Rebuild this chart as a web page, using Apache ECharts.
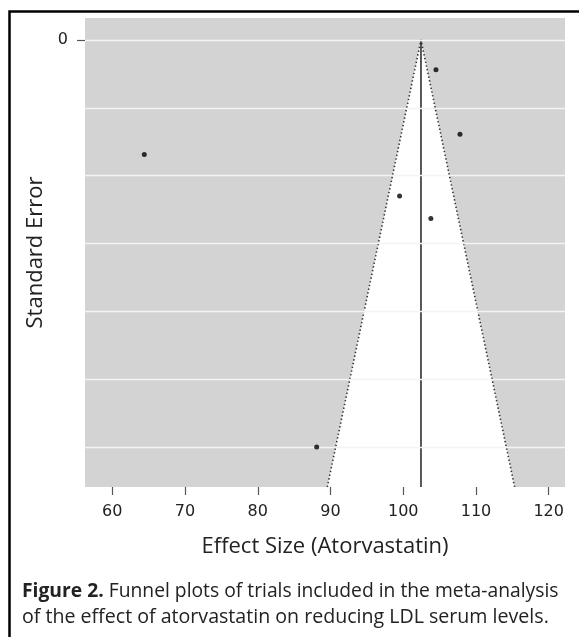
<!DOCTYPE html>
<html><head><meta charset="utf-8">
<script src="https://cdn.jsdelivr.net/npm/echarts@6/dist/echarts.min.js"></script>
<style>html,body{margin:0;padding:0;background:#fff}#c{width:579px;height:637px}</style>
</head><body><div id="c"></div>
<script>
// Study points: effect size and standard error
const effectSize = [104.5, 107.8, 99.5, 103.8, 64.4, 88.1];
const standardError = [0.44, 1.39, 2.30, 2.63, 1.69, 6.00];
// Pooled estimate and funnel bounds
const pooledEffect = 102.44;
const funnelX = [89.56, 102.44, 115.32];
const funnelSE = [6.59, 0, 6.59];
// Axis ticks
const xTicks = [60, 70, 80, 90, 100, 110, 120];
const yTicks = [0];
const gridSE = [0, 1, 2, 3, 4, 5, 6];

const xMin = 56.25, xMax = 122.24, yMin = -0.324, yMax = 6.59;
const titleFont = '"Open Sans", Lato, sans-serif';

const chart = echarts.init(document.getElementById('c'), null, {renderer: 'canvas'});
chart.setOption({
  animation: false,
  backgroundColor: '#ffffff',
  grid: {left: 85, top: 18, width: 480, height: 469, show: true, backgroundColor: '#d3d3d3', borderWidth: 0},
  xAxis: {
    type: 'value', min: xMin, max: xMax,
    axisLine: {show: false, onZero: false},
    axisTick: {show: true, length: 8, lineStyle: {color: '#555', width: 1.2}, customValues: xTicks},
    axisLabel: {customValues: xTicks, color: '#222', fontFamily: 'DejaVu Sans', fontSize: 16, margin: 17},
    splitLine: {show: false},
    name: 'Effect Size (Atorvastatin)', nameLocation: 'middle', nameGap: 49,
    nameTextStyle: {fontFamily: titleFont, fontSize: 22, color: '#222'}
  },
  yAxis: {
    type: 'value', inverse: true, min: yMin, max: yMax,
    axisLine: {show: false, onZero: false},
    axisTick: {show: true, length: 8, lineStyle: {color: '#555', width: 1.2}, customValues: yTicks},
    axisLabel: {customValues: yTicks, color: '#222', fontFamily: 'DejaVu Sans', fontSize: 16, margin: 17},
    splitLine: {show: false},
    name: 'Standard Error', nameLocation: 'middle', nameGap: 38, nameRotate: 90,
    nameTextStyle: {fontFamily: titleFont, fontSize: 22, color: '#222'}
  },
  series: [
    {
      type: 'line', data: [], silent: true, z: 1,
      markLine: {
        silent: true, symbol: 'none', label: {show: false}, animation: false,
        lineStyle: {color: '#f4f4f4', width: 1.4, type: 'solid'},
        data: gridSE.map(v => ({yAxis: v}))
      }
    },
    {
      type: 'custom', z: 2, silent: true,
      data: funnelX.map((x, i) => [x, funnelSE[i]]),
      renderItem: function (params, api) {
        if (params.dataIndex !== 0) return null;
        const pts = funnelX.map((x, i) => api.coord([x, funnelSE[i]]));
        return {type: 'polygon', shape: {points: pts}, style: {fill: '#ffffff', stroke: null}};
      }
    },
    {
      type: 'line', z: 3, silent: true, symbol: 'none',
      data: funnelX.map((x, i) => [x, funnelSE[i]]),
      lineStyle: {color: '#333', width: 1.6, type: [1.4, 2.4]}
    },
    {
      type: 'line', z: 4, silent: true, symbol: 'none',
      data: [[pooledEffect, 0], [pooledEffect, yMax]],
      lineStyle: {color: '#222', width: 1.5}
    },
    {
      type: 'scatter', z: 5, symbol: 'circle', symbolSize: 5,
      itemStyle: {color: '#000'},
      data: effectSize.map((x, i) => [x, standardError[i]])
    }
  ],
  graphic: [
    {type: 'rect', left: 7, top: 9, z: 100, silent: true,
     shape: {x: 0, y: 0, width: 620, height: 700},
     style: {fill: null, stroke: '#000', lineWidth: 2.5}},
    {type: 'text', left: 22, top: 582, z: 100,
     style: {text: '{b|Figure 2.} Funnel plots of trials included in the meta-analysis',
             font: '19.3px ' + titleFont, fill: '#222',
             rich: {b: {fontWeight: 'bold', fontFamily: titleFont, fontSize: 19.3, fill: '#222'}}}},
    {type: 'text', left: 22, top: 607, z: 100,
     style: {text: 'of the effect of atorvastatin on reducing LDL serum levels.',
             font: '19.6px ' + titleFont, fill: '#222'}}
  ]
});
</script></body></html>
